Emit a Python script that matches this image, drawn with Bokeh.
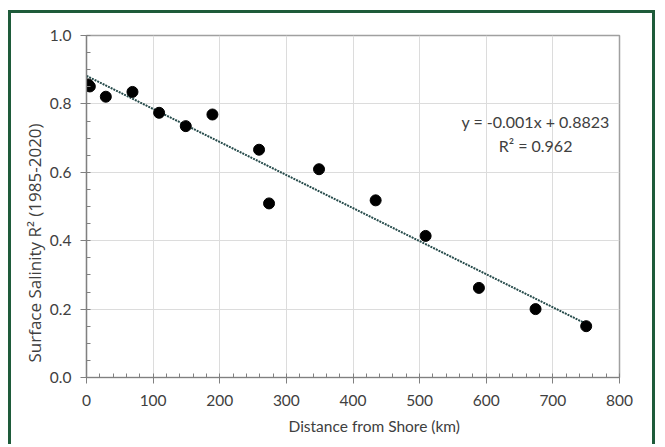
from bokeh.plotting import figure
from bokeh.models import Range1d, SingleIntervalTicker, NumeralTickFormatter, Label, Title
from bokeh.embed import file_html
from bokeh.resources import INLINE

# data
distance_km = [2.5, 5, 29, 69, 109, 149, 189, 259, 274, 349, 434, 509, 589, 674, 750]
salinity_r2 = [0.857, 0.851, 0.821, 0.835, 0.774, 0.735, 0.769, 0.666, 0.509, 0.609, 0.518, 0.414, 0.262, 0.200, 0.150]

trend_x = [0, 750]
trend_y = [0.882, 0.157]

eq_text = "y = -0.001x + 0.8823"
r2_text = "R\u00b2 = 0.962"
x_title = "Distance from Shore (km)"
y_title = "Surface Salinity R\u00b2 (1985-2020)"

GREEN = "#1e5b3a"
TXT = "#404040"

p = figure(width=647, height=434, output_backend="svg", toolbar_location=None,
           x_range=Range1d(0, 800), y_range=Range1d(0, 1),
           min_border_left=75, min_border_right=39, min_border_top=22, min_border_bottom=70)
p.styles = {"border-top": f"3px solid {GREEN}", "border-left": f"3px solid {GREEN}",
            "border-right": f"3px solid {GREEN}", "margin-top": "10px", "margin-left": "8px"}

p.background_fill_color = "white"
p.border_fill_color = "white"
p.outline_line_color = "#a0a0a0"
p.outline_line_width = 1.5

p.xgrid.grid_line_color = "#dcdcdc"
p.ygrid.grid_line_color = "#dcdcdc"
p.xgrid.grid_line_width = 1
p.ygrid.grid_line_width = 1

p.xaxis.ticker = SingleIntervalTicker(interval=100, num_minor_ticks=5)
p.yaxis.ticker = SingleIntervalTicker(interval=0.2, num_minor_ticks=4)
p.yaxis.formatter = NumeralTickFormatter(format="0.0")

for ax in (p.xaxis, p.yaxis):
    ax.axis_line_color = "#808080"
    ax.axis_line_width = 1.2
    ax.major_tick_line_color = "#808080"
    ax.minor_tick_line_color = "#808080"
    ax.major_tick_out = 6
    ax.major_tick_in = 0
    ax.minor_tick_in = 4
    ax.minor_tick_out = 0
    ax.major_label_text_font = "Lato"
    ax.major_label_text_font_size = "15.5px"
    ax.major_label_text_color = TXT
p.xaxis.major_label_standoff = 11
p.yaxis.major_label_standoff = 9

p.line(trend_x, trend_y, line_color="#264b4b", line_width=2, line_dash="2 1")
p.scatter(distance_km, salinity_r2, size=11, fill_color="black", line_color="black")

p.add_layout(Label(x=674, y=0.749, text=eq_text, text_align="center", text_baseline="alphabetic",
                   text_font="Lato", text_font_size="16px", text_color=TXT))
p.add_layout(Label(x=674, y=0.678, text=r2_text, text_align="center", text_baseline="alphabetic",
                   text_font="Lato", text_font_size="16px", text_color=TXT))

p.add_layout(Title(text=x_title, align="left", offset=202, standoff=13,
                   text_font="Lato", text_font_size="15.5px", text_font_style="normal",
                   text_color=TXT), "below")
p.add_layout(Title(text=y_title, align="left", offset=15, standoff=2,
                   text_font="Open Sans", text_font_size="17px", text_font_style="normal",
                   text_color=TXT), "left")

open("out.html", "w").write(file_html(p, INLINE))
